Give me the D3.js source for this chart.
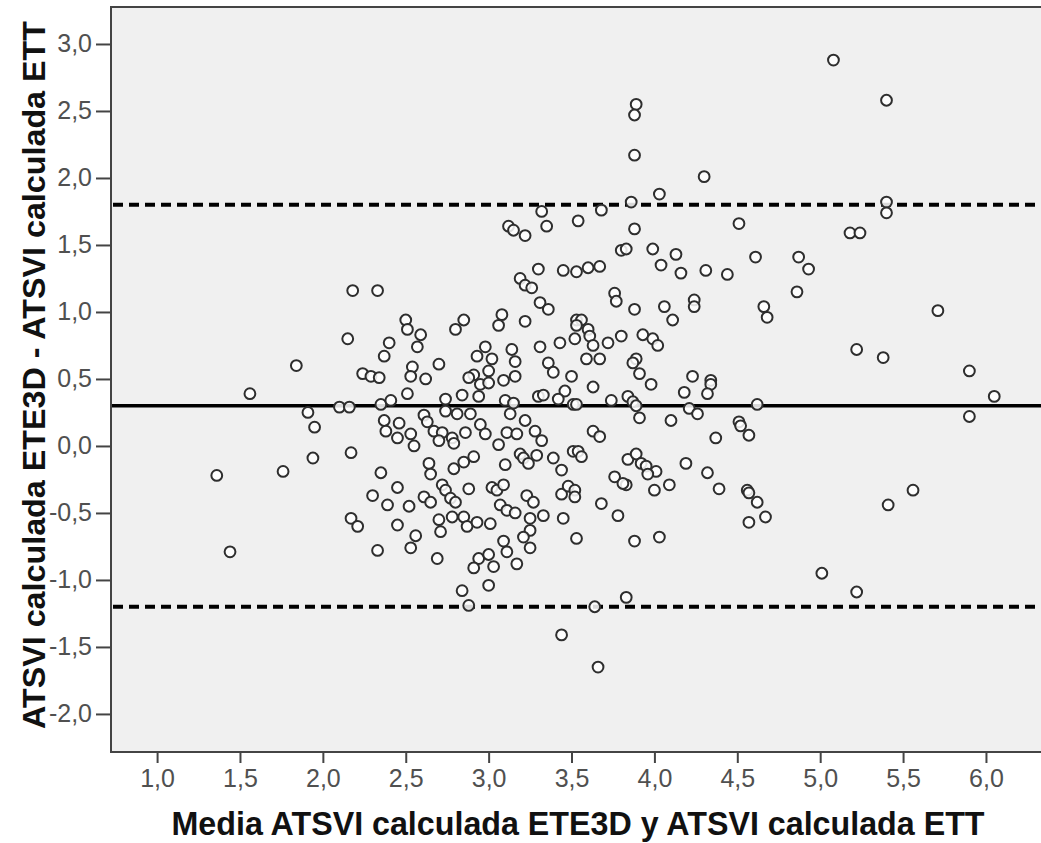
<!DOCTYPE html>
<html>
<head>
<meta charset="utf-8">
<script src="https://cdn.jsdelivr.net/npm/d3@7"></script>
<style>
  html, body { margin: 0; padding: 0; background: #ffffff; }
  svg { display: block; }
</style>
</head>
<body>
<svg id="chart" width="1041" height="843"></svg>
<script>
// Bland-Altman: mean of the two methods (x) vs. their difference (y)
const meanVals = [
  1.36, 1.44, 1.56, 1.76, 1.84, 1.91, 1.94, 1.95, 2.10, 2.16,
  2.15, 2.18, 2.17, 2.17, 2.21, 2.24, 2.29, 2.34, 2.33, 2.35,
  2.30, 2.33, 2.35, 2.37, 2.40, 2.41, 2.37, 2.46, 2.38, 2.45,
  2.45, 2.39, 2.52, 2.45, 2.56, 2.53, 2.50, 2.51, 2.57, 2.54,
  2.53, 2.51, 2.53, 2.55, 2.61, 2.63, 2.64, 2.65, 2.61, 3.80,
  3.83, 3.99, 4.13, 4.04, 4.16, 3.19, 3.30, 3.45, 3.53, 3.60,
  3.67, 3.22, 3.26, 3.76, 3.77, 3.31, 3.36, 3.88, 4.06, 4.11,
  4.24, 4.24, 2.59, 2.85, 2.80, 3.08, 3.06, 3.22, 3.53, 3.56,
  3.53, 3.60, 3.61, 3.63, 3.52, 3.43, 3.72, 3.80, 3.93, 3.99,
  4.02, 3.31, 3.14, 2.98, 2.93, 3.02, 3.16, 3.59, 3.67, 3.89,
  3.87, 3.91, 3.98, 4.23, 2.70, 2.62, 3.36, 3.39, 3.50, 3.63,
  3.00, 2.91, 2.88, 3.16, 3.09, 2.95, 3.00, 2.94, 2.84, 2.74,
  3.10, 3.15, 3.30, 3.33, 3.46, 3.42, 3.51, 3.53, 3.74, 3.84,
  3.87, 3.89, 4.18, 4.21, 4.26, 4.10, 3.91, 2.74, 2.81, 2.89,
  2.95, 3.13, 3.22, 2.67, 2.72, 2.86, 2.98, 3.11, 3.17, 3.28,
  3.63, 3.67, 2.70, 2.78, 2.79, 3.06, 3.32, 2.79, 2.85, 2.91,
  3.10, 3.19, 3.21, 3.24, 3.29, 3.39, 3.44, 3.51, 3.54, 3.56,
  3.84, 3.89, 3.92, 3.95, 4.01, 3.96, 4.19, 3.76, 2.72, 2.74,
  2.88, 3.02, 3.05, 3.09, 3.44, 3.48, 3.52, 3.52, 3.83, 3.81,
  4.00, 4.09, 2.65, 2.77, 2.80, 2.78, 2.85, 2.87, 2.93, 3.01,
  3.07, 3.11, 3.16, 3.23, 3.27, 3.25, 3.33, 3.25, 3.21, 3.25,
  3.45, 3.68, 3.78, 3.53, 3.88, 4.03, 2.70, 2.71, 2.69, 3.09,
  3.11, 3.17, 2.94, 3.00, 2.91, 3.03, 3.00, 2.84, 2.88, 3.64,
  3.83, 3.44, 3.66, 3.12, 3.15, 3.22, 3.32, 3.35, 5.08, 5.40,
  3.89, 3.88, 3.88, 4.30, 4.03, 3.86, 5.40, 5.40, 3.68, 3.54,
  3.88, 4.51, 5.18, 5.24, 4.61, 4.87, 4.31, 4.44, 4.93, 4.86,
  4.66, 4.68, 5.71, 5.22, 5.38, 5.90, 6.05, 5.90, 4.34, 4.34,
  4.32, 4.62, 4.51, 4.52, 4.57, 4.37, 4.32, 4.39, 4.56, 4.57,
  4.62, 4.67, 4.57, 5.56, 5.41, 5.01, 5.22
];
const diffVals = [
  -0.22, -0.79, 0.39, -0.19, 0.60, 0.25, -0.09, 0.14, 0.29, 0.29,
  0.80, 1.16, -0.05, -0.54, -0.60, 0.54, 0.52, 0.51, 1.16, -0.20,
  -0.37, -0.78, 0.31, 0.67, 0.77, 0.34, 0.19, 0.17, 0.11, 0.06,
  -0.31, -0.44, -0.45, -0.59, -0.67, -0.76, 0.94, 0.87, 0.74, 0.59,
  0.52, 0.39, 0.09, 0.00, 0.23, 0.18, -0.13, -0.21, -0.38, 1.46,
  1.47, 1.47, 1.43, 1.35, 1.29, 1.25, 1.32, 1.31, 1.30, 1.33,
  1.34, 1.20, 1.18, 1.14, 1.08, 1.07, 1.02, 1.02, 1.04, 0.94,
  1.09, 1.04, 0.83, 0.94, 0.87, 0.98, 0.90, 0.93, 0.94, 0.94,
  0.90, 0.87, 0.82, 0.75, 0.80, 0.77, 0.77, 0.82, 0.83, 0.80,
  0.75, 0.74, 0.72, 0.74, 0.67, 0.65, 0.63, 0.65, 0.65, 0.65,
  0.62, 0.54, 0.46, 0.52, 0.61, 0.50, 0.62, 0.55, 0.52, 0.44,
  0.56, 0.53, 0.51, 0.52, 0.49, 0.46, 0.47, 0.37, 0.38, 0.35,
  0.34, 0.32, 0.37, 0.38, 0.41, 0.35, 0.31, 0.31, 0.34, 0.37,
  0.33, 0.30, 0.40, 0.28, 0.24, 0.19, 0.21, 0.26, 0.24, 0.24,
  0.16, 0.24, 0.19, 0.11, 0.10, 0.10, 0.09, 0.10, 0.09, 0.11,
  0.11, 0.07, 0.04, 0.06, 0.02, 0.01, 0.04, -0.17, -0.12, -0.08,
  -0.14, -0.06, -0.09, -0.13, -0.07, -0.09, -0.18, -0.04, -0.04, -0.08,
  -0.10, -0.06, -0.13, -0.15, -0.19, -0.21, -0.13, -0.23, -0.29, -0.33,
  -0.32, -0.31, -0.33, -0.29, -0.36, -0.30, -0.33, -0.38, -0.29, -0.28,
  -0.33, -0.29, -0.42, -0.39, -0.42, -0.53, -0.53, -0.60, -0.57, -0.58,
  -0.44, -0.48, -0.50, -0.37, -0.42, -0.54, -0.52, -0.63, -0.68, -0.76,
  -0.54, -0.43, -0.52, -0.69, -0.71, -0.68, -0.55, -0.64, -0.84, -0.71,
  -0.79, -0.88, -0.84, -0.81, -0.91, -0.90, -1.04, -1.08, -1.19, -1.20,
  -1.13, -1.41, -1.65, 1.64, 1.61, 1.57, 1.75, 1.64, 2.88, 2.58,
  2.55, 2.47, 2.17, 2.01, 1.88, 1.82, 1.82, 1.74, 1.76, 1.68,
  1.62, 1.66, 1.59, 1.59, 1.41, 1.41, 1.31, 1.28, 1.32, 1.15,
  1.04, 0.96, 1.01, 0.72, 0.66, 0.56, 0.37, 0.22, 0.49, 0.46,
  0.39, 0.31, 0.18, 0.15, 0.08, 0.06, -0.20, -0.32, -0.33, -0.35,
  -0.42, -0.53, -0.57, -0.33, -0.44, -0.95, -1.09
];

const meanDifference = 0.30;            // solid reference line
const limitsOfAgreement = [1.80, -1.20]; // dashed reference lines

const xTicks = [1.0, 1.5, 2.0, 2.5, 3.0, 3.5, 4.0, 4.5, 5.0, 5.5, 6.0];
const yTicks = [-2.0, -1.5, -1.0, -0.5, 0.0, 0.5, 1.0, 1.5, 2.0, 2.5, 3.0];

const xTitle = "Media ATSVI calculada ETE3D y ATSVI calculada ETT";
const yTitle = "ATSVI calculada ETE3D - ATSVI calculada ETT";

// ---- layout ----
const plotLeft = 111, plotRight = 1041, plotTop = 7, plotBottom = 752;

const x = d3.scaleLinear().domain([0.722, 6.332]).range([plotLeft, plotRight]);
const y = d3.scaleLinear().domain([-2.284, 3.276]).range([plotBottom, plotTop]);

// decimal comma, plain hyphen for negatives
const locale = d3.formatLocale({ decimal: ",", thousands: ".", grouping: [3], currency: ["", " €"], minus: "-" });
const fmt = locale.format(".1f");

const svg = d3.select("#chart");

svg.append("defs").append("clipPath").attr("id", "plotClip")
  .append("rect")
  .attr("x", plotLeft).attr("y", plotTop)
  .attr("width", plotRight - plotLeft).attr("height", plotBottom - plotTop);

// plot background
svg.append("rect")
  .attr("x", plotLeft).attr("y", plotTop)
  .attr("width", plotRight - plotLeft + 4).attr("height", plotBottom - plotTop)
  .attr("fill", "#f0f0f0");

const plot = svg.append("g").attr("clip-path", "url(#plotClip)");

// limits of agreement
plot.selectAll("line.loa").data(limitsOfAgreement).join("line")
  .attr("class", "loa")
  .attr("x1", plotLeft + 2).attr("x2", plotRight + 10)
  .attr("y1", d => y(d)).attr("y2", d => y(d))
  .attr("stroke", "#000").attr("stroke-width", 4)
  .attr("stroke-dasharray", "10,6");

// mean difference
plot.append("line")
  .attr("x1", plotLeft).attr("x2", plotRight + 10)
  .attr("y1", y(meanDifference)).attr("y2", y(meanDifference))
  .attr("stroke", "#000").attr("stroke-width", 3.5);

// points
const pts = meanVals.map((m, i) => ({ m, d: diffVals[i] }));
plot.selectAll("circle.pt").data(pts).join("circle")
  .attr("class", "pt")
  .attr("cx", p => x(p.m)).attr("cy", p => y(p.d))
  .attr("r", 5.4)
  .attr("fill", "#ffffff").attr("fill-opacity", 0.85)
  .attr("stroke", "#2e2e2e").attr("stroke-width", 2);

// frame
svg.append("path")
  .attr("d", `M${plotRight + 5},${plotTop} H${plotLeft} V${plotBottom} H${plotRight + 5}`)
  .attr("fill", "none").attr("stroke", "#444").attr("stroke-width", 2);

// axes
const tickFont = "'Liberation Sans', Arial, sans-serif";

const xAxis = svg.append("g")
  .attr("transform", `translate(0,${plotBottom})`)
  .call(d3.axisBottom(x).tickValues(xTicks).tickFormat(fmt).tickSize(11).tickPadding(6));
const yAxis = svg.append("g")
  .attr("transform", `translate(${plotLeft},0)`)
  .call(d3.axisLeft(y).tickValues(yTicks).tickFormat(fmt).tickSize(15).tickPadding(4));

[xAxis, yAxis].forEach(g => {
  g.select(".domain").remove();
  g.selectAll(".tick line").attr("stroke", "#444").attr("stroke-width", 2);
  g.selectAll(".tick text")
    .attr("fill", "#505050")
    .style("font-family", tickFont)
    .style("font-size", "25px");
});

// axis titles
svg.append("text")
  .attr("x", 578).attr("y", 835)
  .attr("text-anchor", "middle")
  .attr("textLength", 813).attr("lengthAdjust", "spacingAndGlyphs")
  .style("font-family", tickFont).style("font-weight", "bold").style("font-size", "33px")
  .attr("fill", "#111")
  .text(xTitle);

svg.append("text")
  .attr("transform", "translate(45,375) rotate(-90)")
  .attr("text-anchor", "middle")
  .attr("textLength", 708).attr("lengthAdjust", "spacingAndGlyphs")
  .style("font-family", tickFont).style("font-weight", "bold").style("font-size", "32px")
  .attr("fill", "#111")
  .text(yTitle);
</script>
</body>
</html>
